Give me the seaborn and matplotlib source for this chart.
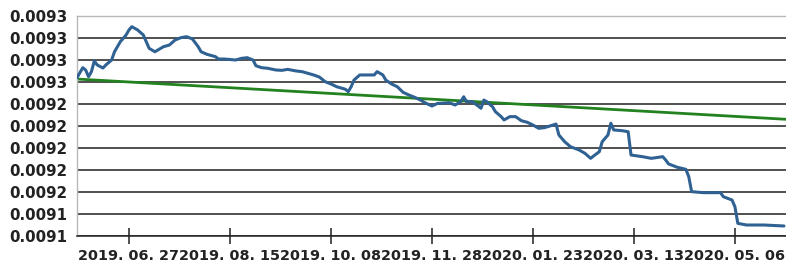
import pandas as pd
import seaborn as sns
import matplotlib.pyplot as plt

day_idx = [0, 2, 3, 4, 5, 6, 7, 9, 10, 12, 13, 15, 17, 18, 19, 21, 23, 24, 25, 27,
           29, 30, 32, 34, 36, 38, 40, 42, 43, 45, 48, 49, 51, 55, 57, 59, 61, 62, 64, 66,
           69, 71, 73, 76, 78, 80, 82, 84, 86, 88, 90, 93, 94, 95, 96, 98, 100, 103, 104, 106,
           107, 109, 111, 113, 115, 117, 119, 121, 123, 125, 126, 129, 131, 133, 134, 135, 137, 139, 140, 141,
           142, 144, 145, 147, 148, 150, 152, 154, 156, 158, 160, 162, 165, 166, 167, 169, 171, 174, 176, 178,
           179, 181, 182, 184, 185, 186, 189, 191, 192, 196, 199, 203, 204, 205, 208, 211, 212, 213, 217, 223,
           224, 227, 228, 229, 232, 238, 245]
price = [92639, 92730, 92709, 92648, 92694, 92791, 92755, 92727, 92755, 92800,
         92875, 92966, 93027, 93073, 93103, 93073, 93027, 92966, 92906, 92875,
         92906, 92921, 92936, 92982, 93003, 93012, 92991, 92921, 92875, 92852,
         92830, 92809, 92809, 92800, 92815, 92821, 92800, 92748, 92730, 92725,
         92709, 92706, 92715, 92700, 92694, 92679, 92664, 92645, 92603, 92582,
         92557, 92534, 92512, 92557, 92618, 92664, 92664, 92664, 92694, 92664,
         92618, 92582, 92557, 92506, 92482, 92461, 92436, 92406, 92382, 92406,
         92406, 92412, 92391, 92421, 92466, 92421, 92421, 92382, 92361, 92436,
         92421, 92375, 92330, 92285, 92255, 92285, 92285, 92248, 92234, 92209,
         92179, 92185, 92209, 92218, 92118, 92057, 92012, 91982, 91952, 91906,
         91927, 91966, 92057, 92118, 92225, 92164, 92157, 92148, 91936, 91921,
         91906, 91921, 91891, 91855, 91825, 91806, 91739, 91603, 91594, 91594,
         91557, 91527, 91466, 91315, 91300, 91300, 91291]
price = [p * 1e-7 for p in price]

# straight trend line (start / end)
trend_idx = [0, 245.7]
trend_price = [0.0092627, 0.0092261]

tick_idx = [18, 53, 88, 123, 158, 193, 228]
tick_dates = ["2019. 06. 27", "2019. 08. 15", "2019. 10. 08", "2019. 11. 28",
              "2020. 01. 23", "2020. 03. 13", "2020. 05. 06"]
y_ticks = [0.00912, 0.00914, 0.00916, 0.00918, 0.00920, 0.00922,
           0.00924, 0.00926, 0.00928, 0.00930, 0.00932]
y_labels = ["0.0091", "0.0091", "0.0092", "0.0092", "0.0092", "0.0092",
            "0.0092", "0.0093", "0.0093", "0.0093", "0.0093"]

df = pd.DataFrame({"idx": day_idx, "price": price})
trend = pd.DataFrame({"idx": trend_idx, "price": trend_price})

sns.set_style("white")
plt.rcParams["font.family"] = ["DejaVu Sans"]

fig = plt.figure(figsize=(7.86, 2.70), dpi=100)
ax = fig.add_axes([77 / 786, 1 - 236 / 270, 1 - 77 / 786, 220 / 270])

sns.lineplot(data=trend, x="idx", y="price", color="#23821f", lw=2.0, ax=ax, zorder=2)
sns.lineplot(data=df, x="idx", y="price", color="#2f6293", lw=2.2, ax=ax, zorder=3)

ax.set_xlim(0, 245.7)
ax.set_ylim(0.00912, 0.00932)
ax.set_yticks(y_ticks)
ax.set_yticklabels(y_labels, fontsize=10.8, fontweight="bold", color="#222222")
ax.set_xticks(tick_idx)
ax.set_xticklabels(tick_dates, fontsize=10.4, fontweight="bold", color="#222222")

# black horizontal grid lines
ax.yaxis.grid(True, color="#202020", lw=1.1)
ax.xaxis.grid(False)
ax.set_axisbelow(True)

ax.tick_params(axis="y", left=False, length=0, pad=7)
ax.tick_params(axis="x", bottom=True, direction="inout", length=12, width=1.1,
               color="#202020", pad=3)
ax.set_xlabel("")
ax.set_ylabel("")

for side in ["top", "left"]:
    ax.spines[side].set_color("#b8b8b8")
    ax.spines[side].set_linewidth(1.0)
ax.spines["right"].set_visible(False)
ax.spines["bottom"].set_color("#202020")
ax.spines["bottom"].set_linewidth(1.1)

plt.savefig("out.png", dpi=100)
